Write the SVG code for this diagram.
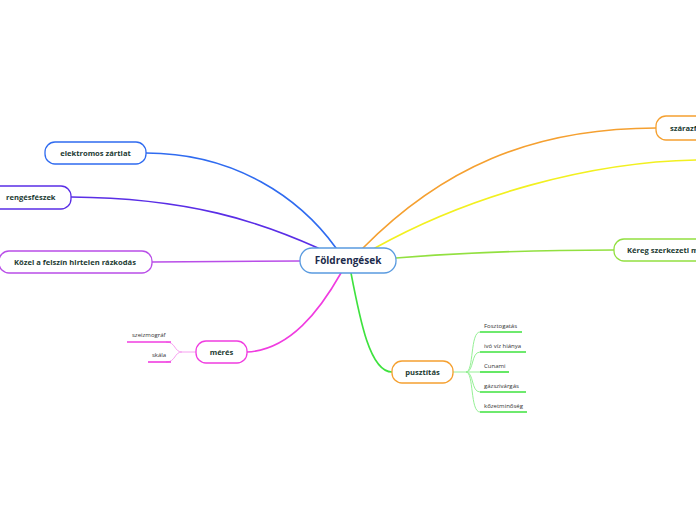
<svg xmlns="http://www.w3.org/2000/svg" width="696" height="520" viewBox="0 0 696 520">
<style>
.node rect{fill:#fff;stroke-width:1.3}
.t{font-family:"Open Sans","Noto Sans",sans-serif;font-weight:bold;fill:#1c3b33;font-size:7.6px}
.s{font-family:"Open Sans","Noto Sans",sans-serif;fill:#333;font-size:6px}
.c{fill:none;stroke-width:1.6;stroke-linecap:round}
.b{fill:none;stroke-width:1}
</style>
<rect width="696" height="520" fill="#fff"/>
<g id="connectors">
<path class="c" stroke="#2f6bf0" d="M146,153 C235,153 300,198 336,248"/>
<path class="c" stroke="#5a2ee6" d="M71,197 C190,198 260,222 318,248"/>
<path class="c" stroke="#b94ee8" d="M152,262 L300,261"/>
<path class="c" stroke="#f03ce0" d="M247,352 C290,350 320,310 341,273"/>
<path class="c" stroke="#3ee23e" d="M351,273 C360,320 370,372 392,372"/>
<path class="c" stroke="#f5a030" d="M363,248 C440,170 530,128 656,128"/>
<path class="c" stroke="#f2f020" d="M375,248 C470,195 590,162 696,160"/>
<path class="c" stroke="#92e040" d="M396,258 C470,252 540,250 614,250"/>
<path class="b" stroke="#f7a0f0" d="M196,352 L182,352 C174,352 176,342 166,342 M182,352 C174,352 176,362 166,362"/>
<path class="b" stroke="#95f095" d="M453,372 L466,372 M466,372 C474,372 470,332 480,332 M466,372 C474,372 471,352 480,352 M466,372 L480,372 M466,372 C474,372 471,392 480,392 M466,372 C474,372 470,412 480,412"/>
</g>
<g id="n-center" class="node"><rect x="300" y="248" width="96" height="25" rx="12" stroke="#5a9be0"/><text x="348" y="264" text-anchor="middle" class="t" style="font-size:10px;fill:#1d2b4c">Földrengések</text></g>
<g id="n-elektromos" class="node"><rect x="45" y="142" width="101" height="22" rx="10" stroke="#2f6bf0"/><text x="95.5" y="155.5" text-anchor="middle" class="t">elektromos zártlat</text></g>
<g id="n-rengesfeszek" class="node"><rect x="-12" y="186" width="83" height="23" rx="10" stroke="#5a2ee6"/><text x="6" y="200" class="t">rengésfészek</text></g>
<g id="n-kozel" class="node"><rect x="-1" y="251" width="153" height="22" rx="10" stroke="#b94ee8"/><text x="75" y="264.5" text-anchor="middle" class="t">Közel a felszín hirtelen rázkodás</text></g>
<g id="n-meres" class="node"><rect x="196" y="341" width="51" height="22" rx="10" stroke="#f03ce0"/><text x="221.5" y="355" text-anchor="middle" class="t">mérés</text></g>
<g id="n-szeizmograf"><text x="132" y="337" class="s">szeizmográf</text><path d="M127,342 H171" stroke="#f03ce0" stroke-width="1.6"/></g>
<g id="n-skala"><text x="152" y="357" class="s">skála</text><path d="M148,362 H171" stroke="#f03ce0" stroke-width="1.6"/></g>
<g id="n-pusztitas" class="node"><rect x="392" y="361" width="61" height="22" rx="10" stroke="#f5a030"/><text x="422.5" y="375" text-anchor="middle" class="t">pusztítás</text></g>
<g id="n-foszt"><text x="484" y="328" class="s">Fosztogatás</text><path d="M480,332 H522" stroke="#3ee23e" stroke-width="1.6"/></g>
<g id="n-ivoviz"><text x="484" y="348" class="s">ivó víz hiánya</text><path d="M480,352 H526" stroke="#3ee23e" stroke-width="1.6"/></g>
<g id="n-cunami"><text x="484" y="368" class="s">Cunami</text><path d="M480,372 H509" stroke="#3ee23e" stroke-width="1.6"/></g>
<g id="n-gaz"><text x="484" y="388" class="s">gázszivárgás</text><path d="M480,392 H526" stroke="#3ee23e" stroke-width="1.6"/></g>
<g id="n-kozet"><text x="484" y="408" class="s">kőzetminőség</text><path d="M480,412 H527" stroke="#3ee23e" stroke-width="1.6"/></g>
<g id="n-szaraz" class="node"><rect x="656" y="116" width="120" height="24" rx="10" stroke="#f5a030"/><text x="670" y="131" class="t">szárazföldi</text></g>
<g id="n-kereg" class="node"><rect x="614" y="239" width="140" height="22" rx="10" stroke="#92e040"/><text x="627" y="253" class="t">Kéreg szerkezeti mozgása</text></g>
</svg>
